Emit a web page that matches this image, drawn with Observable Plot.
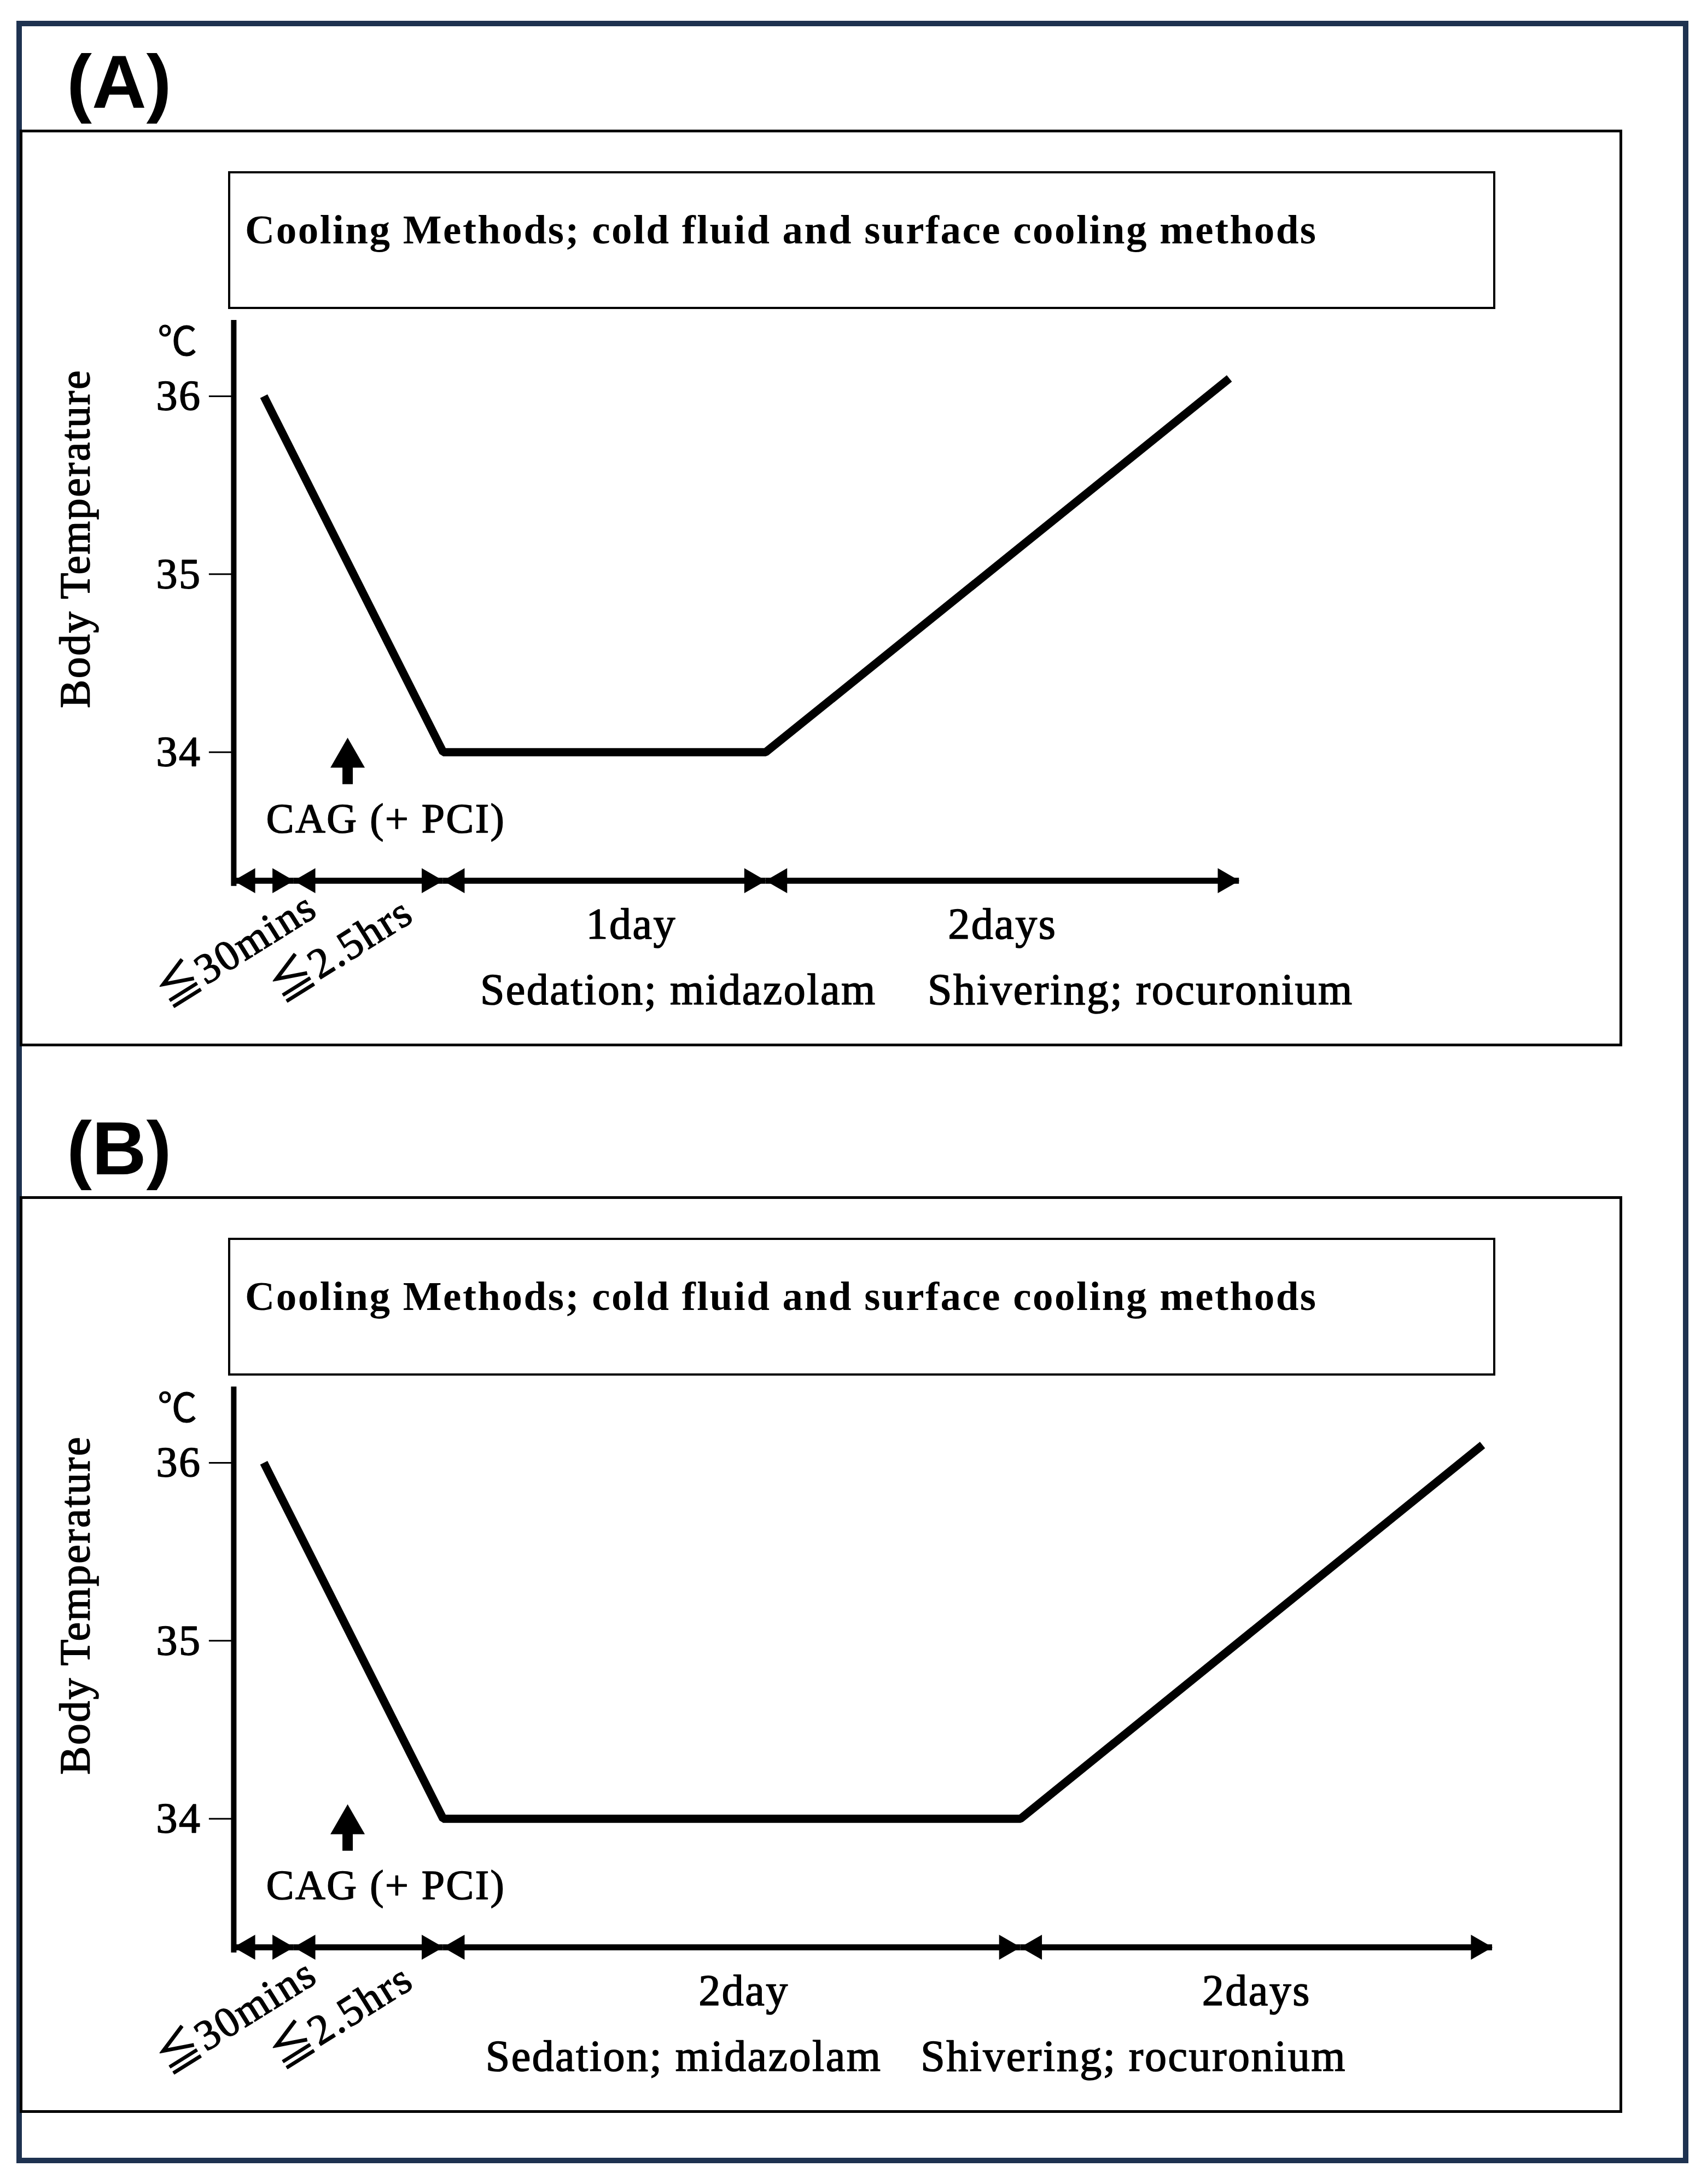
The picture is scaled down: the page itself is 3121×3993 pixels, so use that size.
<!DOCTYPE html>
<html>
<head>
<meta charset="utf-8">
<script src="https://cdn.jsdelivr.net/npm/d3@7"></script>
<script src="https://cdn.jsdelivr.net/npm/@observablehq/plot@0.6"></script>
<style>
  html, body { margin: 0; padding: 0; background: #fff; }
  #page { position: relative; width: 3121px; height: 3993px; background: #fff; overflow: hidden;
          font-family: "Liberation Serif", "Noto Sans CJK JP", serif; color: #000; }
  .frame { position: absolute; left: 30px; top: 38px; width: 3057px; height: 3917px;
           border: 10px solid #1e3250; box-sizing: border-box; }
  .tag { position: absolute; left: 122px; font-family: "Liberation Sans", Arial, sans-serif;
         font-weight: bold; font-size: 138px; line-height: 1; }
  .panel { position: absolute; left: 36px; width: 2930px; height: 1676px;
           border: 5px solid #000; box-sizing: border-box; }
  .cool { position: absolute; left: 376px; top: 71px; width: 2317px; height: 252px;
          border: 4px solid #000; box-sizing: border-box; padding-top: 65px; padding-left: 27px;
          font-weight: bold; font-size: 75px; line-height: 1; letter-spacing: 2.5px; white-space: nowrap; }
</style>
</head>
<body>
<div id="page">
  <div class="frame"></div>
</div>
<script>
// ---------------- data ----------------
const panelTags = ["(A)", "(B)"];
const coolingText = "Cooling Methods; cold fluid and surface cooling methods";
const yLabel = "Body Temperature";
const yUnit = "℃";
const yTicks = [34, 35, 36];

// phase boundaries on the timeline (hours since start)
const breaksA = [0, 0.5, 3, 27, 75];
const breaksB = [0, 0.5, 3, 51, 99];

// body temperature course (hours, °C)
const timeA = [0.25, 3, 27, 74];
const tempA = [36.0, 34.0, 34.0, 36.1];
const timeB = [0.25, 3, 51, 98];
const tempB = [36.0, 34.0, 34.0, 36.1];

// CAG (+PCI) timing (hours)
const cagTime = 1.4;
const cagLabel = "CAG (+ PCI)";

// labels under the timeline
const phaseLabels = ["≦30mins", "≦2.5hrs"];
const durationLabelsA = ["1day", "2days"];
const durationTimesA = [17, 51];
const durationLabelsB = ["2day", "2days"];
const durationTimesB = [28, 75];
const drugLabels = ["Sedation; midazolam", "Shivering; rocuronium"];
const drugTimesA = [20.5, 65];
const drugTimesB = [23, 62.5];

// ---------------- layout / scale config ----------------
const W = 2921, H = 1335;
const Y_DOMAIN = [33.278, 36.427];
const rangeA = [386, 496, 769, 1359, 2225];
const rangeB = [386, 496, 769, 1825, 2688];
const FONT = "'Liberation Serif', 'Noto Sans CJK JP', serif";
const TXT = {fill: "#000", stroke: "#000", strokeWidth: 1.6};

function makePanel(breaks, times, temps, durLabels, durTimes, drugTimes, xRange) {
  const segs = d3.pairs(breaks, (a, b) => ({start: a, end: b}));
  const rows = times.map((t, i) => ({t, temp: temps[i]}));
  const phaseRows = phaseLabels.map((label, i) => ({label, t: (breaks[i] + breaks[i + 1]) / 2}));
  const durRows = durLabels.map((label, i) => ({label, t: durTimes[i]}));
  const drugRows = drugLabels.map((label, i) => ({label, t: drugTimes[i]}));
  const yBottom = () => Y_DOMAIN[0];
  return Plot.plot({
    width: W, height: H,
    marginTop: 15, marginBottom: 295,
    marginLeft: xRange[0], marginRight: W - xRange[xRange.length - 1],
    x: {type: "linear", domain: breaks, range: xRange, axis: null},
    y: {type: "linear", domain: Y_DOMAIN},
    style: {fontFamily: FONT, fontSize: "76px", color: "#000", background: "transparent",
            overflow: "visible", letterSpacing: "2.5px"},
    marks: [
      // y axis
      Plot.ruleX([0], {strokeWidth: 10, insetBottom: -10, stroke: "#000"}),
      Plot.axisY(yTicks, {tickSize: 45, tickPadding: 14, strokeWidth: 3, fontSize: 78,
                          tickFormat: d => String(d), label: null,
                          textStroke: "#000", textStrokeWidth: 1.6}),
      Plot.text([yUnit], {frameAnchor: "top-left", dx: -102, dy: 12, fontSize: 72, textAnchor: "middle", ...TXT, strokeWidth: 1}),
      Plot.text([yLabel], {frameAnchor: "left", rotate: -90, dx: -289, dy: -113, fontSize: 78, textAnchor: "middle", ...TXT}),
      // temperature course
      Plot.line(rows, {x: "t", y: "temp", strokeWidth: 15, strokeLinejoin: "miter", strokeLinecap: "butt", stroke: "#000"}),
      // CAG marker
      Plot.ruleX([cagTime], {strokeWidth: 19, insetTop: 815, insetBottom: 176, stroke: "#000"}),
      Plot.dot([cagTime], {x: d => d, frameAnchor: "bottom", dy: -225, symbol: "triangle", r: 23.4, fill: "#000", stroke: "none"}),
      Plot.text([cagLabel], {x: () => cagTime, frameAnchor: "bottom", dx: 70, dy: -88, fontSize: 76, ...TXT}),
      // timeline double arrows
      Plot.ruleY(segs, {x1: "start", x2: "end", y: yBottom, strokeWidth: 11, stroke: "#000"}),
      Plot.dot(segs, {x: "start", y: yBottom, symbol: "triangle", r: 17, rotate: -90, dx: 26, fill: "#000", stroke: "none"}),
      Plot.dot(segs, {x: "end", y: yBottom, symbol: "triangle", r: 17, rotate: 90, dx: -26, fill: "#000", stroke: "none"}),
      // labels under timeline
      Plot.text(phaseRows, {x: "t", text: "label", frameAnchor: "bottom", rotate: -32, dx: -36, dy: 148, fontSize: 78, ...TXT}),
      Plot.text(durRows, {x: "t", text: "label", frameAnchor: "bottom", dy: 106, fontSize: 80, ...TXT}),
      Plot.text(drugRows, {x: "t", text: "label", frameAnchor: "bottom", dy: 226, fontSize: 80, ...TXT})
    ]
  });
}

const page = document.getElementById("page");
const configs = [
  {top: 237, tagTop: 80, args: [breaksA, timeA, tempA, durationLabelsA, durationTimesA, drugTimesA, rangeA]},
  {top: 2187, tagTop: 2030, args: [breaksB, timeB, tempB, durationLabelsB, durationTimesB, drugTimesB, rangeB]}
];
configs.forEach((c, i) => {
  const tag = document.createElement("div");
  tag.className = "tag";
  tag.style.top = c.tagTop + "px";
  tag.textContent = panelTags[i];
  page.appendChild(tag);

  const panel = document.createElement("div");
  panel.className = "panel";
  panel.style.top = c.top + "px";
  const cool = document.createElement("div");
  cool.className = "cool";
  cool.textContent = coolingText;
  panel.appendChild(cool);
  const chart = makePanel(...c.args);
  chart.style.position = "absolute";
  chart.style.left = "0px";
  chart.style.top = "328px";
  panel.appendChild(chart);
  page.appendChild(panel);
});
</script>
</body>
</html>
